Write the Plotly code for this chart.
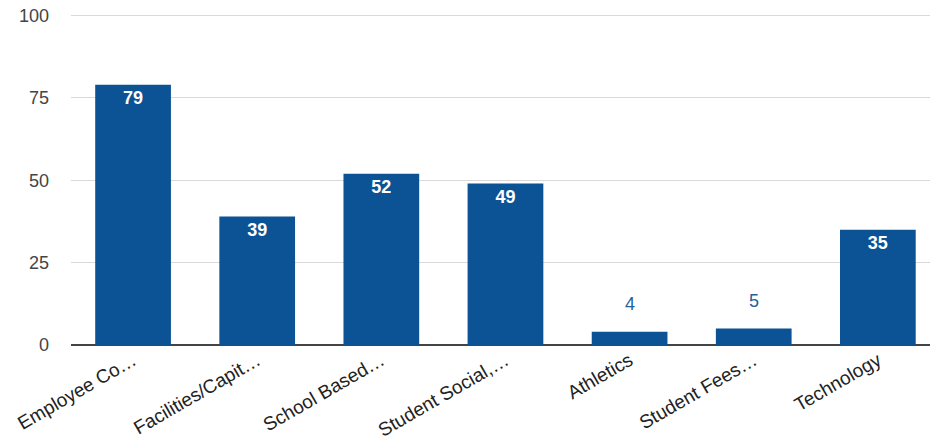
import plotly.graph_objects as go

categories = ["Employee Co…", "Facilities/Capit…", "School Based…", "Student Social,…",
              "Athletics", "Student Fees…", "Technology"]
values = [79, 39, 52, 49, 4, 5, 35]
y_ticks = [0, 25, 50, 75, 100]

bar_color = "#0b5394"
inside = [v >= 10 for v in values]
FONT = "Liberation Sans, Arial"

fig = go.Figure()
fig.add_trace(go.Bar(
    x=categories, y=values,
    marker=dict(color=bar_color, line=dict(width=0)),
    width=0.61,
    text=[str(v) if ins else "" for v, ins in zip(values, inside)],
    textposition="inside",
    insidetextanchor="end",
    textangle=0,
    textfont=dict(family=FONT, size=18, color="white", weight="bold"),
    hoverinfo="skip",
))

for c, v, ins in zip(categories, values, inside):
    if not ins:
        fig.add_annotation(x=c, y=v, text=str(v), showarrow=False, yanchor="bottom",
                           yshift=16,
                           font=dict(family=FONT, size=18, color="#24609c"))

fig.update_layout(
    width=930, height=448,
    margin=dict(l=71, r=0, t=9, b=103),
    paper_bgcolor="white", plot_bgcolor="white",
    showlegend=False,
    bargap=0.39,
    font=dict(family=FONT, color="#444"),
)
fig.update_xaxes(
    range=[-0.5, 6.42],
    tickangle=-30,
    tickfont=dict(size=19, color="#222"),
    showgrid=False, showline=False, ticks="",
)
fig.update_yaxes(
    range=[0, 102],
    tickvals=y_ticks,
    ticktext=[str(t) for t in y_ticks],
    tickfont=dict(size=18, color="#444"),
    showgrid=True, gridcolor="#d9d9d9", gridwidth=1,
    zeroline=True, zerolinecolor="#444", zerolinewidth=1.5,
    ticks="", ticklabelstandoff=21,
)
fig.write_html("out.html", config={"displayModeBar": False},
               post_script="document.body.style.margin='0';document.body.style.overflow='hidden';")
